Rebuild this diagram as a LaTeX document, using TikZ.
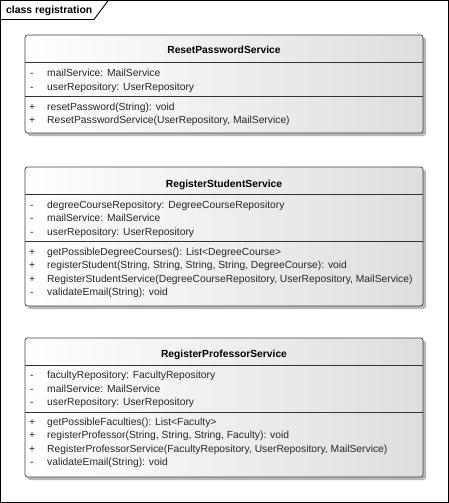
\documentclass[tikz,border=0pt]{standalone}
\usepackage{fontspec}
\setmainfont{Liberation Sans}
\begin{document}
\begin{tikzpicture}[x=1pt,y=-1pt,
  frameline/.style={draw=black, line width=0.9pt},
  classbox/.style={draw=black!75, line width=0.7pt, rounded corners=2.5pt,
    left color=white, right color=black!13},
  shadowbox/.style={fill=black!28, rounded corners=2.5pt},
  sepline/.style={draw=black!80, line width=0.7pt},
  classname/.style={anchor=base, inner sep=0pt, font=\fontsize{10.3}{12}\selectfont\bfseries},
  member/.style={anchor=base west, inner sep=0pt, text=black!85, font=\fontsize{10.3}{12}\selectfont},
  vis/.style={anchor=base west, inner sep=0pt, text=black!85, font=\fontsize{10.3}{12}\selectfont},
  tabtext/.style={anchor=base west, inner sep=0pt, font=\fontsize{10.4}{12}\selectfont\bfseries}]
\useasboundingbox (0,0) rectangle (449,503);
\fill[white] (0,0) rectangle (449,503);

% package frame with its name tab
\draw[frameline] (0.75,0.75) rectangle (448,502);
\draw[frameline] (0.75,19.5) -- (94,19.5) -- (108,0.75);
\node[tabtext] (tab) at (6,14) {class registration};

% ---------- ResetPasswordService ----------
\fill[shadowbox] (27.5,37.5) rectangle (426,136);
\path[classbox] (25,35) rectangle (423,133);
\draw[sepline] (25,62) -- (423,62);
\draw[sepline] (25,96) -- (423,96);
\node[classname] (c1) at (224,54) {ResetPasswordService};
\node[vis] (c1v1) at (30,76.5) {-};
\node[member] (c1a1) at (47,76.5) {mailService: MailService};
\node[vis] (c1v2) at (30,90) {-};
\node[member] (c1a2) at (47,90) {userRepository: UserRepository};
\node[vis] (c1v3) at (29,110) {+};
\node[member] (c1m1) at (47,110) {resetPassword(String): void};
\node[vis] (c1v4) at (29,123.5) {+};
\node[member] (c1m2) at (47,123.5) {ResetPasswordService(UserRepository, MailService)};

% ---------- RegisterStudentService ----------
\fill[shadowbox] (27.5,169.5) rectangle (426,309);
\path[classbox] (25,167) rectangle (423,306);
\draw[sepline] (25,194) -- (423,194);
\draw[sepline] (25,241) -- (423,241);
\node[classname] (c2) at (224,187) {RegisterStudentService};
\node[vis] (c2v1) at (30,208.3) {-};
\node[member] (c2a1) at (47,208.3) {degreeCourseRepository: DegreeCourseRepository};
\node[vis] (c2v2) at (30,221.7) {-};
\node[member] (c2a2) at (47,221.7) {mailService: MailService};
\node[vis] (c2v3) at (30,235) {-};
\node[member] (c2a3) at (47,235) {userRepository: UserRepository};
\node[vis] (c2v4) at (29,255) {+};
\node[member] (c2m1) at (47,255) {getPossibleDegreeCourses(): List<DegreeCourse>};
\node[vis] (c2v5) at (29,268.5) {+};
\node[member] (c2m2) at (47,268.5) {registerStudent(String, String, String, String, DegreeCourse): void};
\node[vis] (c2v6) at (29,282) {+};
\node[member] (c2m3) at (47,282) {RegisterStudentService(DegreeCourseRepository, UserRepository, MailService)};
\node[vis] (c2v7) at (30,295.5) {-};
\node[member] (c2m4) at (47,295.5) {validateEmail(String): void};

% ---------- RegisterProfessorService ----------
\fill[shadowbox] (27.5,340.5) rectangle (426,480);
\path[classbox] (25,338) rectangle (423,477);
\draw[sepline] (25,365) -- (423,365);
\draw[sepline] (25,412) -- (423,412);
\node[classname] (c3) at (224,357.5) {RegisterProfessorService};
\node[vis] (c3v1) at (30,378.5) {-};
\node[member] (c3a1) at (47,378.5) {facultyRepository: FacultyRepository};
\node[vis] (c3v2) at (30,392) {-};
\node[member] (c3a2) at (47,392) {mailService: MailService};
\node[vis] (c3v3) at (30,405.5) {-};
\node[member] (c3a3) at (47,405.5) {userRepository: UserRepository};
\node[vis] (c3v4) at (29,425) {+};
\node[member] (c3m1) at (47,425) {getPossibleFaculties(): List<Faculty>};
\node[vis] (c3v5) at (29,438.5) {+};
\node[member] (c3m2) at (47,438.5) {registerProfessor(String, String, String, Faculty): void};
\node[vis] (c3v6) at (29,452) {+};
\node[member] (c3m3) at (47,452) {RegisterProfessorService(FacultyRepository, UserRepository, MailService)};
\node[vis] (c3v7) at (30,465.5) {-};
\node[member] (c3m4) at (47,465.5) {validateEmail(String): void};
\end{tikzpicture}
\end{document}
